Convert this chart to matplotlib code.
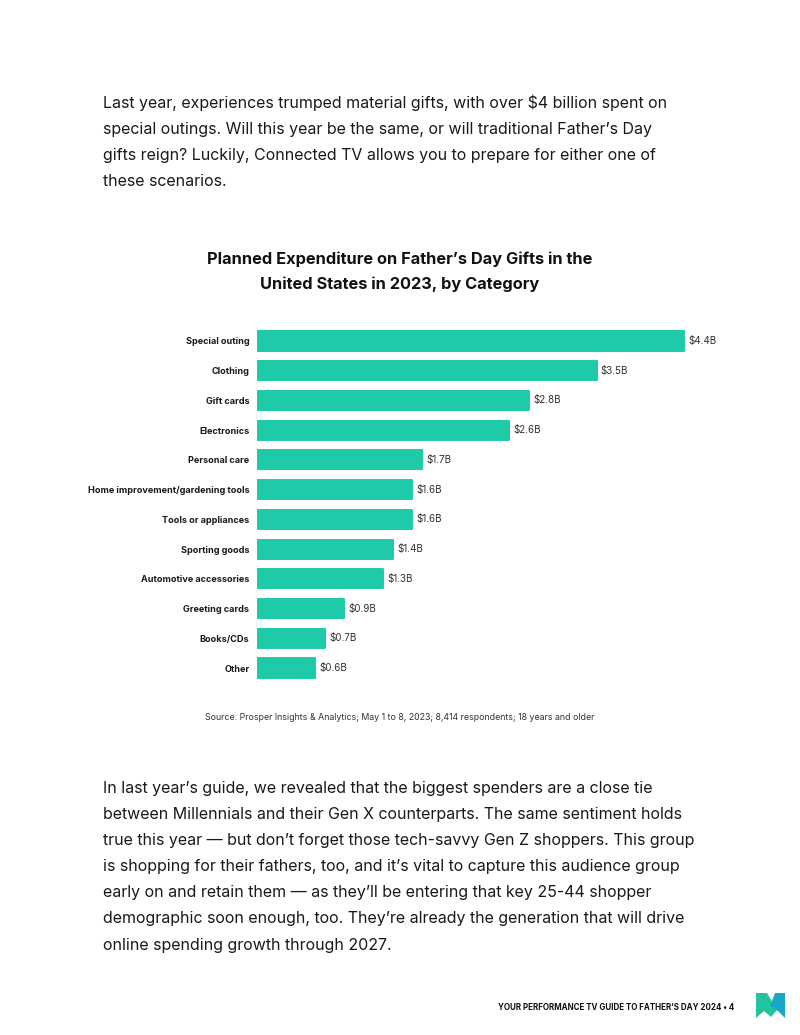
import matplotlib
matplotlib.use("Agg")
import matplotlib.pyplot as plt
from matplotlib.patches import Polygon

categories = ["Special outing", "Clothing", "Gift cards", "Electronics", "Personal care",
              "Home improvement/gardening tools", "Tools or appliances", "Sporting goods",
              "Automotive accessories", "Greeting cards", "Books/CDs", "Other"]
values = [4.4, 3.5, 2.8, 2.6, 1.7, 1.6, 1.6, 1.4, 1.3, 0.9, 0.7, 0.6]
value_labels = ["$4.4B", "$3.5B", "$2.8B", "$2.6B", "$1.7B", "$1.6B", "$1.6B", "$1.4B",
                "$1.3B", "$0.9B", "$0.7B", "$0.6B"]

title = "Planned Expenditure on Father\u2019s Day Gifts in the\nUnited States in 2023, by Category"
source = "Source: Prosper Insights & Analytics; May 1 to 8, 2023; 8,414 respondents; 18 years and older"
para1 = ["Last year, experiences trumped material gifts, with over $4 billion spent on",
         "special outings. Will this year be the same, or will traditional Father\u2019s Day",
         "gifts reign? Luckily, Connected TV allows you to prepare for either one of",
         "these scenarios."]
para2 = ["In last year\u2019s guide, we revealed that the biggest spenders are a close tie",
         "between Millennials and their Gen X counterparts. The same sentiment holds",
         "true this year \u2014 but don\u2019t forget those tech-savvy Gen Z shoppers. This group",
         "is shopping for their fathers, too, and it\u2019s vital to capture this audience group",
         "early on and retain them \u2014 as they\u2019ll be entering that key 25-44 shopper",
         "demographic soon enough, too. They\u2019re already the generation that will drive",
         "online spending growth through 2027."]
footer = "YOUR PERFORMANCE TV GUIDE TO FATHER\u2019S DAY 2024 \u2022 4"

plt.rcParams['font.family'] = ['Inter', 'DejaVu Sans']

W, H = 800, 1035
fig = plt.figure(figsize=(W / 100, H / 100), dpi=100)
fig.patch.set_facecolor("white")

def fx(px):
    return px / W

def fy(py):
    return 1 - py / H

text_color = "#1a1a1a"
bar_color = "#1ECAA8"

# paragraphs
for i, line in enumerate(para1):
    fig.text(fx(103), fy(103 + i * 26.3), line, fontsize=11.5, color=text_color,
             va="center", ha="left")
for i, line in enumerate(para2):
    fig.text(fx(103), fy(788 + i * 26.2), line, fontsize=11.5, color=text_color,
             va="center", ha="left")

# title
fig.text(fx(400), fy(259), title.split("\n")[0], fontsize=11.8, fontweight="bold",
         color="#111111", ha="center", va="center")
fig.text(fx(400), fy(284), title.split("\n")[1], fontsize=11.8, fontweight="bold",
         color="#111111", ha="center", va="center")

# chart axes
ax_left, ax_right = 257, 720
spacing = 29.73
y_top = 341 - spacing / 2
y_bot = 668 + spacing / 2
ax = fig.add_axes([fx(ax_left), fy(y_bot), fx(ax_right - ax_left), (y_bot - y_top) / H])
scale = 97.0
ax.set_xlim(0, (ax_right - ax_left) / scale)
ax.set_ylim(len(categories) - 0.5, -0.5)
ypos = list(range(len(categories)))
ax.barh(ypos, values, height=0.64, color=bar_color, edgecolor=bar_color,
        linewidth=1.4, joinstyle="round")
for y, v, lab in zip(ypos, values, value_labels):
    ax.text(v + 0.045, y, lab, fontsize=7.1, color="#333333", va="center", ha="left")
ax.set_yticks(ypos)
ax.set_yticklabels(categories, fontsize=6.55, fontweight="bold", color="#1a1a1a")
ax.tick_params(axis="y", length=0, pad=5.5)
ax.set_xticks([])
for s in ax.spines.values():
    s.set_visible(False)
ax.set_facecolor("none")

# source
fig.text(fx(400), fy(718), source, fontsize=6.35, color="#333333", ha="center", va="center")

# footer
fig.text(fx(734), fy(1007), footer, fontsize=5.75, fontweight="bold", color="#111111",
         ha="right", va="center")

# logo
left_poly = [(756, 993), (767, 993), (777, 1010), (771, 1017), (764, 1011), (756, 1018)]
right_poly = [(775, 993), (785, 993), (785, 1018), (778, 1011), (770, 1006)]
fig.patches.append(Polygon([(fx(x), fy(y)) for x, y in left_poly], closed=True,
                           transform=fig.transFigure, facecolor="#21C4A0", edgecolor="none"))
fig.patches.append(Polygon([(fx(x), fy(y)) for x, y in right_poly], closed=True,
                           transform=fig.transFigure, facecolor="#1AA6C6", edgecolor="none"))

fig.savefig("out.png", dpi=100, facecolor="white")
